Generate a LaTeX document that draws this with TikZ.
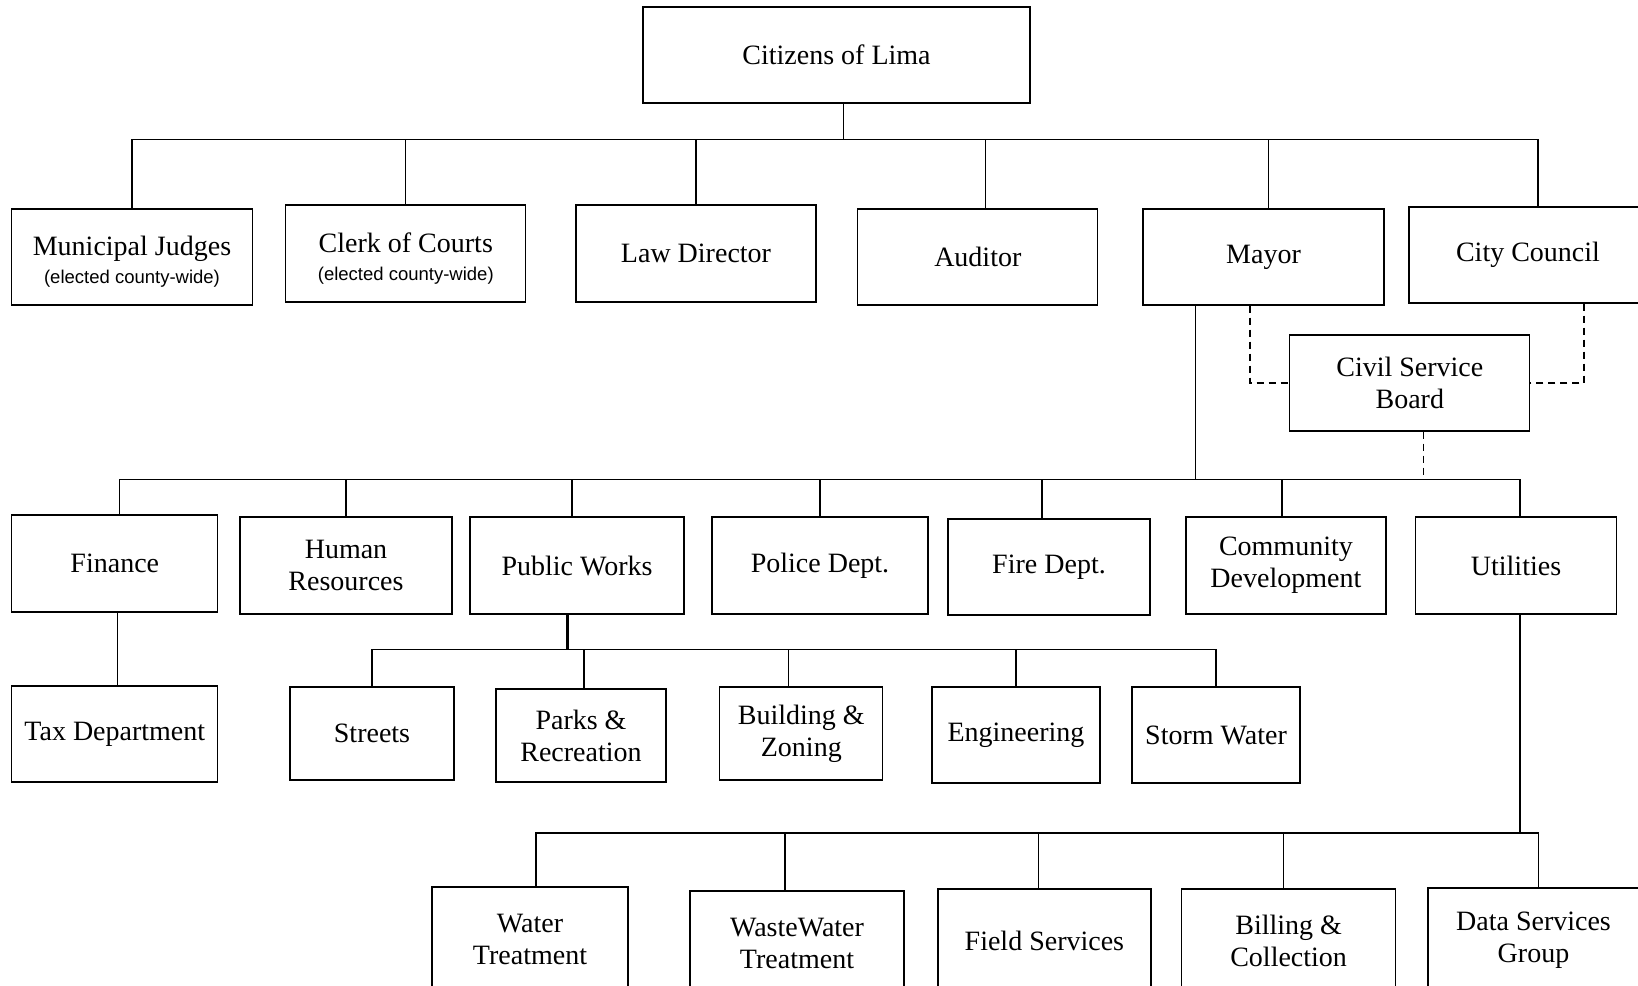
\documentclass[tikz,border=0pt]{standalone}
\usepackage{fontspec}
\setmainfont{Liberation Serif}
\setsansfont{Liberation Sans}
\begin{document}
\begin{tikzpicture}[x=1pt, y=-1pt,
  box/.style={draw=black, line width=1.3pt, inner sep=0pt, align=center, font=\fontsize{28}{32}\selectfont},
  link/.style={draw=black, line width=1.3pt},
  board/.style={draw=black, line width=1.3pt, dash pattern=on 7pt off 5pt}]
\useasboundingbox (0,0) rectangle (1638,985);
\clip (0,0) rectangle (1638,985);
\fill[white] (0,0) rectangle (1638,985);
\node[box, minimum width=387, minimum height=96] (cit) at (836.5,55) {Citizens of Lima};
\node[box, minimum width=241, minimum height=96] (judges) at (132,257) {\rule{0pt}{29pt}Municipal Judges\\[-4pt]\sffamily\fontsize{18.5}{20}\selectfont(elected county-wide)};
\node[box, minimum width=240, minimum height=97] (clerk) at (405.8,253.5) {\rule{0pt}{29pt}Clerk of Courts\\[-4pt]\sffamily\fontsize{18.5}{20}\selectfont(elected county-wide)};
\node[box, minimum width=240, minimum height=97] (lawdir) at (696,253.5) {Law Director};
\node[box, minimum width=240, minimum height=96] (auditor) at (977.8,257) {Auditor};
\node[box, minimum width=241, minimum height=96] (mayor) at (1263.5,257) {Mayor};
\node[box, minimum width=238, minimum height=96] (council) at (1528,255) {City Council};
\node[box, minimum width=240, minimum height=96] (csb) at (1409.8,383) {Civil Service\\Board};
\node[box, minimum width=206, minimum height=97] (finance) at (114.8,563.5) {Finance};
\node[box, minimum width=212, minimum height=97] (hr) at (346,565.5) {Human\\Resources};
\node[box, minimum width=214, minimum height=97] (pubworks) at (577,565.5) {Public Works};
\node[box, minimum width=216, minimum height=97] (police) at (820,565.5) {Police Dept.};
\node[box, minimum width=202, minimum height=96] (fire) at (1049,567) {Fire Dept.};
\node[box, minimum width=200, minimum height=97] (commdev) at (1285.9,565.5) {Community\\Development};
\node[box, minimum width=201, minimum height=97] (utilities) at (1516,565.5) {Utilities};
\node[box, minimum width=206, minimum height=96] (tax) at (114.8,734) {Tax Department};
\node[box, minimum width=164, minimum height=93] (streets) at (372,733.5) {Streets};
\node[box, minimum width=170, minimum height=93] (parks) at (581,735.5) {Parks \&\\Recreation};
\node[box, minimum width=163, minimum height=93] (building) at (801.3,733.5) {Building \&\\Zoning};
\node[box, minimum width=168, minimum height=96] (engineering) at (1016,735) {Engineering};
\node[box, minimum width=168, minimum height=96] (storm) at (1216,735) {Storm Water};
\node[box, minimum width=196, minimum height=104] (water) at (530,939) {Water\\Treatment};
\node[box, minimum width=214, minimum height=104] (wastewater) at (797,943) {WasteWater\\Treatment};
\node[box, minimum width=213, minimum height=104] (field) at (1044.4,941) {Field Services};
\node[box, minimum width=214, minimum height=104] (billing) at (1288.6,941) {Billing \&\\Collection};
\node[box, minimum width=211, minimum height=104] (dataserv) at (1533.5,940) {Data Services\\Group};
\coordinate (bus1) at (843.5,139.5);
\coordinate (bus2) at (1195.6,479.5);
\coordinate (bus3) at (567.5,649.5);
\coordinate (bus4) at (1520,833);
\coordinate (mdash) at (1250,383);
\coordinate (cdash) at (1584,383);
\coordinate (csbfoot) at (1423.5,479.5);
\draw[link] (cit.south -| bus1) -- (bus1);
\draw[link] (bus1) -| (judges.north);
\draw[link] (bus1) -| (clerk.north);
\draw[link] (bus1) -| (lawdir.north);
\draw[link] (bus1) -| ([xshift=8]auditor.north);
\draw[link] (bus1) -| ([xshift=5]mayor.north);
\draw[link] (bus1) -| ([xshift=10]council.north);
\draw[board] (mayor.south -| mdash) -- (mdash) -- (csb.west);
\draw[board] (council.south -| cdash) -- (cdash) -- (csb.east);
\draw[board] (csb.south -| csbfoot) -- (csbfoot);
\draw[link] (mayor.south -| bus2) -- (bus2);
\draw[link] (bus2) -| ([xshift=5]finance.north);
\draw[link] (bus2) -| (hr.north);
\draw[link] (bus2) -| ([xshift=-5]pubworks.north);
\draw[link] (bus2) -| (police.north);
\draw[link] (bus2) -| ([xshift=-7]fire.north);
\draw[link] (bus2) -| ([xshift=-4]commdev.north);
\draw[link] (bus2) -| ([xshift=4]utilities.north);
\draw[link] ([xshift=3]finance.south) -- ([xshift=3]tax.north);
\draw[link, line width=2.5pt] (pubworks.south -| bus3) -- (bus3);
\draw[link] (bus3) -| (streets.north);
\draw[link] (bus3) -| ([xshift=3]parks.north);
\draw[link] (bus3) -| ([xshift=-13]building.north);
\draw[link] (bus3) -| (engineering.north);
\draw[link] (bus3) -| (storm.north);
\draw[link] (utilities.south -| bus4) -- (bus4);
\draw[link] (bus4) -| ([xshift=6]water.north);
\draw[link] (bus4) -| ([xshift=-12]wastewater.north);
\draw[link] (bus4) -| ([xshift=-6]field.north);
\draw[link] (bus4) -| ([xshift=-5]billing.north);
\draw[link] (bus4) -| ([xshift=5]dataserv.north);
\end{tikzpicture}
\end{document}
